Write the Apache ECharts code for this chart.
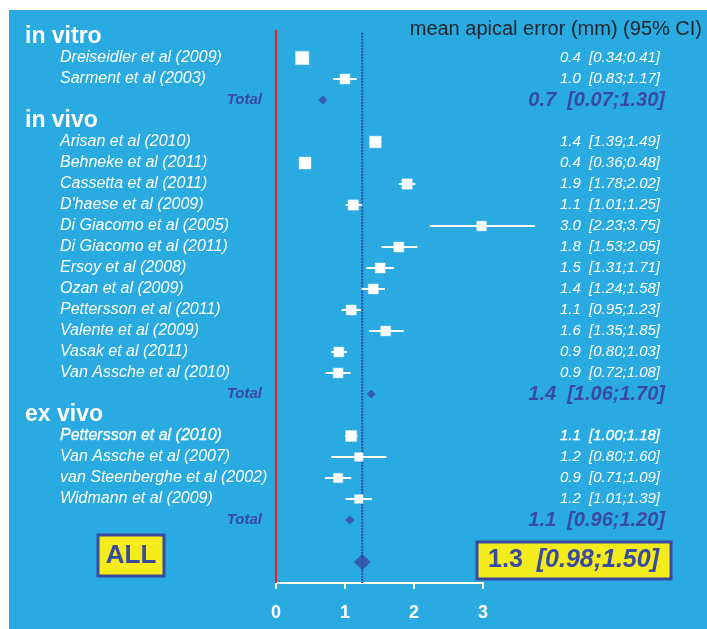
<!DOCTYPE html>
<html><head><meta charset="utf-8">
<script src="https://cdn.jsdelivr.net/npm/echarts@6/dist/echarts.min.js"></script>
<style>html,body{margin:0;padding:0;background:#fff}#c{width:707px;height:629px}</style>
</head><body><div id="c"></div>
<script>
// ---------- data ----------
const groupNames = ['in vitro', 'in vivo', 'ex vivo'];
const studyNames = [
  'Dreiseidler et al (2009)', 'Sarment et al (2003)',
  'Arisan et al (2010)', 'Behneke et al (2011)', 'Cassetta et al (2011)', "D'haese et al (2009)",
  'Di Giacomo et al (2005)', 'Di Giacomo et al (2011)', 'Ersoy et al (2008)', 'Ozan et al (2009)',
  'Pettersson et al (2011)', 'Valente et al (2009)', 'Vasak et al (2011)', 'Van Assche et al (2010)',
  'Pettersson et al (2010)', 'Van Assche et al (2007)', 'van Steenberghe et al (2002)', 'Widmann et al (2009)'
];
const studyGroup  = [0,0, 1,1,1,1,1,1,1,1,1,1,1,1, 2,2,2,2];
const studyMean   = [0.38,1.00, 1.44,0.42,1.90,1.12,2.98,1.78,1.51,1.41,1.09,1.59,0.91,0.90, 1.09,1.20,0.90,1.20];
const studyLow    = [0.34,0.83, 1.39,0.36,1.78,1.01,2.23,1.53,1.31,1.24,0.95,1.35,0.80,0.72, 1.00,0.80,0.71,1.01];
const studyHigh   = [0.41,1.17, 1.49,0.48,2.02,1.25,3.75,2.05,1.71,1.58,1.23,1.85,1.03,1.08, 1.18,1.60,1.09,1.39];
const studyWeight = [1.33,1.00, 1.17,1.20,1.03,1.03,0.97,1.00,1.00,1.00,1.00,0.98,1.00,0.98, 1.10,0.85,0.93,0.85];
const pooledMean  = [0.68, 1.38, 1.07];
const pooledLow   = [0.07, 1.06, 0.96];
const pooledHigh  = [1.30, 1.70, 1.20];
const overallMean = 1.25, overallLow = 0.98, overallHigh = 1.50;
const overallLabel = 'ALL';
const totalLabel = 'Total';
const axisTitle = 'mean apical error (mm) (95% CI)';
const xTicks = [0, 1, 2, 3];

// ---------- layout ----------
const BG = '#29abe2', DARK = '#3a4a9e', YEL = '#f3eb1c', RED = '#e8232a';
const FONT = '"Liberation Sans", Arial, sans-serif';
const studyRow = [], headerRow = [], totalRow = [];
let row = 0;
groupNames.forEach((g, gi) => {
  headerRow.push(row++);
  studyGroup.forEach((sg, i) => { if (sg === gi) studyRow[i] = row++; });
  totalRow.push(row++);
});
const allRow = row + 1;
const fmt = (m, l, h) => m.toFixed(1) + '  [' + l.toFixed(2) + ';' + h.toFixed(2) + ']';

const texts = [];
groupNames.forEach((g, gi) => {
  texts.push({row: headerRow[gi], x: 25, align: 'left', text: g, font: 'bold 23px ' + FONT, fill: '#fff'});
  texts.push({row: totalRow[gi], x: 262, align: 'right', text: totalLabel, font: 'italic bold 15px ' + FONT, fill: DARK});
  texts.push({row: totalRow[gi], x: 665, align: 'right', text: fmt(pooledMean[gi], pooledLow[gi], pooledHigh[gi]), font: 'italic bold 20px ' + FONT, fill: DARK});
});
studyNames.forEach((n, i) => {
  const heavy = n === 'Pettersson et al (2010)';
  texts.push({row: studyRow[i], x: 60, align: 'left', text: n, font: 'italic 16px ' + FONT, fill: '#fff', heavy});
  texts.push({row: studyRow[i], x: 660, align: 'right', text: fmt(studyMean[i], studyLow[i], studyHigh[i]), font: 'italic 15px ' + FONT, fill: '#fff', heavy});
});

const chart = echarts.init(document.getElementById('c'), null, {renderer: 'canvas'});
chart.setOption({
  animation: false,
  backgroundColor: '#fff',
  graphic: [{type: 'rect', left: 9, top: 10, shape: {width: 698, height: 619}, style: {fill: BG}, z: -10}],
  title: {text: axisTitle, right: 5, top: 19, padding: 0,
    textStyle: {fontFamily: FONT, fontSize: 20, fontWeight: 'normal', color: '#1e2428'}},
  grid: {left: 276, width: 207, top: 16, height: 567},
  xAxis: {type: 'value', position: 'bottom', min: xTicks[0], max: xTicks[xTicks.length - 1], interval: 1,
    axisLine: {show: true, onZero: false, lineStyle: {color: '#fff', width: 2}},
    axisTick: {show: true, length: 6, lineStyle: {color: '#fff', width: 2}},
    splitLine: {show: false},
    axisLabel: {color: '#fff', fontFamily: FONT, fontWeight: 'bold', fontSize: 18, margin: 21}},
  yAxis: {type: 'value', inverse: true, min: -1, max: allRow + 1, show: false},
  series: [
    {type: 'line', data: [[0, -0.35], [0, allRow + 1]], symbol: 'none', silent: true,
      lineStyle: {color: RED, width: 2.2}, z: 2},
    {type: 'line', data: [[overallMean, -0.2], [overallMean, allRow + 1]], symbol: 'none', silent: true,
      lineStyle: {color: '#2f47a8', width: 2, type: [2, 1]}, z: 2},
    {type: 'custom', clip: false, z: 5,
      data: studyNames.map((n, i) => [studyMean[i], studyRow[i], studyLow[i], studyHigh[i], studyWeight[i]]),
      encode: {x: 0, y: 1},
      renderItem(params, api) {
        const m = api.value(0), r = api.value(1), lo = api.value(2), hi = api.value(3), w = api.value(4);
        const c = api.coord([m, r]), pl = api.coord([lo, r]), ph = api.coord([hi, r]);
        const s = w * 10;
        return {type: 'group', children: [
          {type: 'line', shape: {x1: pl[0], y1: c[1], x2: ph[0], y2: c[1]}, style: {stroke: '#fff', lineWidth: 2}},
          {type: 'rect', shape: {x: c[0] - s / 2, y: c[1] - s / 2, width: s, height: s}, style: {fill: '#fff', stroke: 'rgba(220,240,250,0.6)', lineWidth: 0.8}}
        ]};
      }},
    {type: 'scatter', symbol: 'diamond', symbolSize: 9, z: 6,
      data: pooledMean.map((m, gi) => [m, totalRow[gi]]), itemStyle: {color: DARK}},
    {type: 'scatter', symbol: 'diamond', symbolSize: [17, 16], z: 6,
      data: [[overallMean, allRow]], itemStyle: {color: DARK}},
    {type: 'custom', clip: false, z: 8, silent: true,
      data: texts.map(t => [0, t.row]),
      encode: {x: 0, y: 1},
      renderItem(params, api) {
        const t = texts[params.dataIndex];
        const y = api.coord([0, api.value(1)])[1];
        const style = {text: t.text, x: t.x, y: y, font: t.font, fill: t.fill, align: t.align, verticalAlign: 'middle'};
        if (t.heavy) { style.stroke = '#fff'; style.lineWidth = 0.3; }
        return {type: 'text', style};
      }},
    {type: 'custom', clip: false, z: 8, silent: true,
      data: [[overallMean, allRow, overallLow, overallHigh]],
      encode: {x: 0, y: 1},
      renderItem(params, api) {
        const y = api.coord([0, api.value(1)])[1];
        const m = api.value(0), lo = api.value(2), hi = api.value(3);
        return {type: 'group', children: [
          {type: 'rect', shape: {x: 98, y: y - 27, width: 66, height: 41}, style: {fill: YEL, stroke: DARK, lineWidth: 3}},
          {type: 'text', style: {text: overallLabel, x: 131, y: y - 6, font: 'bold 26px ' + FONT, fill: DARK, align: 'center', verticalAlign: 'middle'}},
          {type: 'rect', shape: {x: 477, y: y - 20, width: 194, height: 37}, style: {fill: YEL, stroke: DARK, lineWidth: 3}},
          {type: 'text', style: {text: '{a|' + m.toFixed(1) + '}{b|  [' + lo.toFixed(2) + ';' + hi.toFixed(2) + ']}',
            x: 659, y: y - 2, align: 'right', verticalAlign: 'middle',
            rich: {a: {font: 'bold 25px ' + FONT, fill: DARK, color: DARK},
                   b: {font: 'italic bold 25px ' + FONT, fill: DARK, color: DARK}}}}
        ]};
      }}
  ]
});
</script></body></html>
